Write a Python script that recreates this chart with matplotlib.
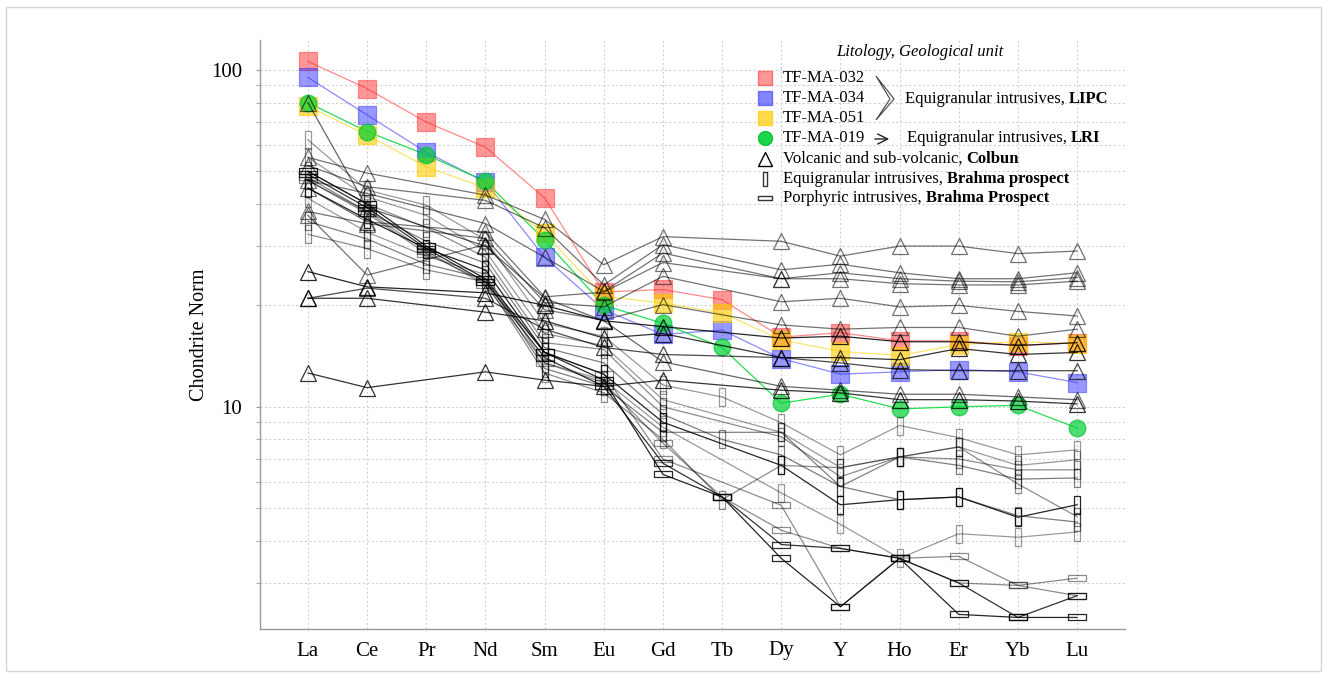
import numpy as np
import matplotlib
matplotlib.use("Agg")
import matplotlib.pyplot as plt
from matplotlib.path import Path
from matplotlib.lines import Line2D
from matplotlib.patches import Rectangle, Polygon, FancyArrowPatch
from matplotlib.ticker import LogLocator, NullFormatter, FuncFormatter, NullLocator

plt.rcParams['font.family'] = ['Liberation Serif', 'DejaVu Serif']

nan = np.nan
elements = ["La", "Ce", "Pr", "Nd", "Sm", "Eu", "Gd", "Tb", "Dy", "Y", "Ho", "Er", "Yb", "Lu"]

# coloured samples
tfma032 = [106, 88, 70, 59, 41.7, 21.9, 22.3, 20.8, 16.1, 16.6, 15.7, 15.7, 15.2, 15.5]
tfma034 = [95, 73.5, 57, 46.5, 27.8, 19.4, 16.4, 16.9, 13.9, 12.5, 12.7, 12.9, 12.7, 11.8]
tfma051 = [78, 64, 51.6, 44.6, 32.7, 21.3, 20.3, 19.0, 15.8, 14.6, 14.2, 15.3, 15.6, 15.4]
tfma019 = [80, 65.6, 56, 46.7, 31.3, 20.0, 17.7, 15.0, 10.25, 10.9, 9.86, 10.0, 10.1, 8.65]

# Volcanic and sub-volcanic, Colbun (no Pr, no Tb)
colbun = [
    [80, 39, nan, 30, 21, 18, 13.6, nan, 11.5, 11.2, 10.9, 10.9, 10.7, 10.5],
    [55, 49.4, nan, 42.5, 36, 26.4, 32, nan, 31, 28, 30, 30, 28.5, 29],
    [52, 45, nan, 41, 34, 23, 30.3, nan, 25.5, 26.5, 25, 24, 24, 25],
    [47, 43, nan, 35, 27.8, 22, 28.6, nan, 24, 25, 24, 23.6, 23.5, 24.2],
    [44.6, 35.4, nan, 33, 21.2, 21.9, 26.8, nan, 24, 24, 23.2, 23, 23, 23.6],
    [38, 35, nan, 31.6, 20.4, 19.8, 24.4, nan, 20.5, 21, 19.8, 20, 19.2, 18.6],
    [37, 24.6, nan, 30.3, 19.4, 18.1, 20.1, nan, 17.5, 17, 17.2, 17.2, 16.2, 17],
    [25.2, 22.7, nan, 21.8, 20, 18, 17.3, nan, 16, 16.2, 15.6, 15.6, 15.2, 15.5],
    [21, 21, nan, 19.1, 18, 16, 16.5, nan, 14, 14, 13.8, 14.9, 14.3, 14.5],
    [21, 22.5, nan, 21, 17, 15, 14.3, nan, 14, 13.5, 12.9, 12.8, 12.8, 12.8],
    [12.6, 11.4, nan, 12.7, 12.0, 11.5, 12.0, nan, 11.2, 11, 10.5, 10.5, 10.4, 10.2],
]

# Equigranular intrusives, Brahma prospect
brahma_eq = [
    [62, 44, 39.7, 31.3, 17.7, 16.2, 11.6, 10.7, 8.97, 7.2, 8.8, 8.1, 7.2, 7.45],
    [55, 42, 37, 29, 16.5, 15.2, 10.5, nan, 8.4, 6.6, 7.1, 7.6, 6.7, 6.96],
    [50, 40, 34, 27.8, 15.5, 14.8, 10.0, nan, 8.15, 6.2, 7.1, 7.0, 6.5, 6.5],
    [47, 38, 31, 26.7, 15, 13.5, 9.5, 8.0, 7.2, 5.8, 7.1, 6.7, 6.1, 6.15],
    [44.6, 36, 29.5, 25.5, 14.5, 12.5, 9.0, nan, 6.7, 5.12, 5.3, 5.4, 4.7, 5.12],
    [41.6, 33, 28, 24.7, 13.5, 12, 8.7, nan, 5.55, 4.48, 3.55, 4.2, 4.1, 4.25],
    [35.5, 31.5, 26.5, 24, 13, 11.5, 8.4, nan, 8.4, 5.8, 5.3, 5.4, 4.75, 4.55],
    [32.5, 29.5, 25.5, 23.5, 12.6, 11, 8.0, 5.3, 6.7, 6.6, 7.1, 7.6, 5.9, 4.72],
]

# Porphyric intrusives, Brahma Prospect
brahma_por = [
    [50, 40, 30, 24, 14.5, 12, 6.3, 5.4, 3.55, 2.55, 3.55, 2.42, 2.37, 2.37],
    [49, 39, 29.5, 23.5, 14, 11.5, 6.8, 5.4, 3.9, 3.8, 3.55, 3.0, 2.37, 2.75],
    [48, 38, 29, 23, 13.5, 11.8, 7.8, 5.4, 4.3, 3.8, 3.55, 3.6, 2.95, 3.1],
    [47, 37.5, 28.5, 23.5, 14.5, 12.5, 7.0, nan, 5.1, 2.55, 3.55, 3.0, 2.95, 2.75],
]

colbun_alpha = [0.6, 0.55, 0.55, 0.55, 0.55, 0.55, 0.55, 0.85, 0.8, 0.7, 0.8]
eq_alpha = [0.4, 0.4, 0.45, 0.5, 0.85, 0.4, 0.5, 0.45]
por_alpha = [0.85, 0.8, 0.45, 0.45]

W, H = 1328, 678
fig = plt.figure(figsize=(W / 100, H / 100), dpi=100)
ax = fig.add_axes([260 / W, 1 - 629 / H, (1125 - 260) / W, (629 - 40) / H])
x = np.arange(len(elements))

vrect = Path([(-0.35, -1), (0.35, -1), (0.35, 1), (-0.35, 1), (-0.35, -1)],
             [Path.MOVETO, Path.LINETO, Path.LINETO, Path.LINETO, Path.CLOSEPOLY])
hrect = Path([(-1, -0.35), (1, -0.35), (1, 0.35), (-1, 0.35), (-1, -0.35)],
             [Path.MOVETO, Path.LINETO, Path.LINETO, Path.LINETO, Path.CLOSEPOLY])


def draw(vals, marker, ms, lcol, mfc, mec, lw=0.9, z=3, mew=0.9):
    v = np.array(vals, dtype=float)
    m = ~np.isnan(v)
    ax.plot(x[m], v[m], color=lcol, lw=lw, zorder=z)
    ax.plot(x[m], v[m], ls='none', marker=marker, ms=ms, mfc=mfc, mec=mec,
            mew=mew, zorder=z + 0.5)


# coloured samples
draw(tfma032, 's', 13, (1, 0.35, 0.35, 0.7), (1, 0.1, 0.1, 0.45), (1, 0.2, 0.2, 0.5), z=2)
draw(tfma034, 's', 13, (0.35, 0.35, 1, 0.7), (0.2, 0.2, 1, 0.5), (0.2, 0.2, 1, 0.5), z=2)
draw(tfma051, 's', 13, (1, 0.85, 0.2, 0.7), (1, 0.8, 0.0, 0.6), (1, 0.8, 0.0, 0.6), z=2)
draw(tfma019, 'o', 12, (0.0, 0.85, 0.2, 0.85), (0.0, 0.82, 0.2, 0.7), (0.0, 0.75, 0.2, 0.7), z=2)

for vals, a in zip(colbun, colbun_alpha):
    draw(vals, '^', 12, (0, 0, 0, a), 'none', (0, 0, 0, a), z=4)
for vals, a in zip(brahma_eq, eq_alpha):
    draw(vals, vrect, 12.5, (0, 0, 0, a), 'none', (0, 0, 0, a), z=4)
for vals, a in zip(brahma_por, por_alpha):
    draw(vals, hrect, 12.5, (0, 0, 0, a), 'none', (0, 0, 0, a), z=4)

ax.set_yscale('log')
ax.set_ylim(2.19, 122.7)
ax.set_xlim(-0.81, 13.81)
ax.set_xticks(x)
ax.set_xticklabels(elements)
ax.xaxis.set_minor_locator(NullLocator())
ax.yaxis.set_major_locator(LogLocator(base=10))
ax.yaxis.set_minor_locator(LogLocator(base=10, subs=np.arange(2, 10)))
ax.yaxis.set_minor_formatter(NullFormatter())
ax.yaxis.set_major_formatter(FuncFormatter(lambda v, p: f"{v:g}"))
ax.grid(True, which='both', axis='y', color='#d2d2d2', ls=(0, (2, 2)), lw=0.8)
ax.grid(True, which='major', axis='x', color='#d2d2d2', ls=(0, (2, 2)), lw=0.8)
ax.set_axisbelow(True)
ax.tick_params(axis='y', which='both', length=3, color='#999999', labelsize=15, pad=10)
ax.tick_params(axis='x', length=0, labelsize=15, pad=9)
for s in ('top', 'right'):
    ax.spines[s].set_visible(False)
for s in ('left', 'bottom'):
    ax.spines[s].set_color('#999999')
    ax.spines[s].set_linewidth(1.0)
ax.set_ylabel("Chondrite Norm", fontsize=14.5, labelpad=1)

# ---- legend (manual) ----
def fx(px):
    return px / W


def fy(py):
    return 1 - py / H


renderer = fig.canvas.get_renderer()
LFS = 12


def rich(px, py, parts, size=LFS):
    cur = px
    sp = fig.text(0, 0, "a a", fontsize=size).get_window_extent(renderer).width - \
        fig.text(0, 0, "aa", fontsize=size).get_window_extent(renderer).width
    for t in fig.texts[-2:]:
        t.remove()
    for i, (txt, wt) in enumerate(parts):
        if i > 0:
            cur += sp
        t = fig.text(fx(cur), fy(py), txt, fontsize=size, weight=wt, ha='left', va='center')
        cur += t.get_window_extent(renderer).width


fig.text(fx(920), fy(52), "Litology, Geological unit", style='italic', fontsize=12,
         ha='center', va='center')

leg_x = 765
legend_items = [
    ('s', 10, (1, 0.1, 0.1, 0.45), (1, 0.2, 0.2, 0.6), 78, [("TF-MA-032", 'normal')]),
    ('s', 10, (0.2, 0.2, 1, 0.6), (0.2, 0.2, 1, 0.6), 98, [("TF-MA-034", 'normal')]),
    ('s', 10, (1, 0.8, 0.0, 0.7), (1, 0.8, 0.0, 0.7), 118, [("TF-MA-051", 'normal')]),
    ('o', 10, (0.0, 0.82, 0.2, 0.9), (0.0, 0.75, 0.2, 0.9), 138, [("TF-MA-019", 'normal')]),
    ('^', 10, 'none', 'black', 159, [("Volcanic and sub-volcanic,", 'normal'), ("Colbun", 'bold')]),
    (vrect, 10, 'none', '#333333', 179, [("Equigranular intrusives,", 'normal'), ("Brahma prospect", 'bold')]),
    (hrect, 10, 'none', '#333333', 198, [("Porphyric intrusives,", 'normal'), ("Brahma Prospect", 'bold')]),
]
for mk, ms, fc, ec, py, parts in legend_items:
    fig.add_artist(Line2D([fx(leg_x)], [fy(py)], transform=fig.transFigure, ls='none',
                          marker=mk, ms=ms, mfc=fc, mec=ec, mew=1.0))
    rich(783, py, parts)

# chevron grouping the LIPC samples
chev = [(876, 76), (894, 99), (876, 120), (890, 99)]
fig.add_artist(Polygon([(fx(a), fy(b)) for a, b in chev], closed=True, fill=False,
                       ec='#444444', lw=0.8, transform=fig.transFigure))
rich(905, 99, [("Equigranular intrusives,", 'normal'), ("LIPC", 'bold')])
fig.add_artist(FancyArrowPatch((fx(872), fy(139)), (fx(892), fy(139)), transform=fig.transFigure,
                               arrowstyle='->', mutation_scale=18, lw=1.0, color='#222222'))
rich(907, 138, [("Equigranular intrusives,", 'normal'), ("LRI", 'bold')])

fig.add_artist(Rectangle((6 / W, 7 / H), (W - 13) / W, (H - 14) / H, transform=fig.transFigure,
                         fill=False, ec='#d5d5d5', lw=1.0))

fig.savefig("out.png", dpi=100)
